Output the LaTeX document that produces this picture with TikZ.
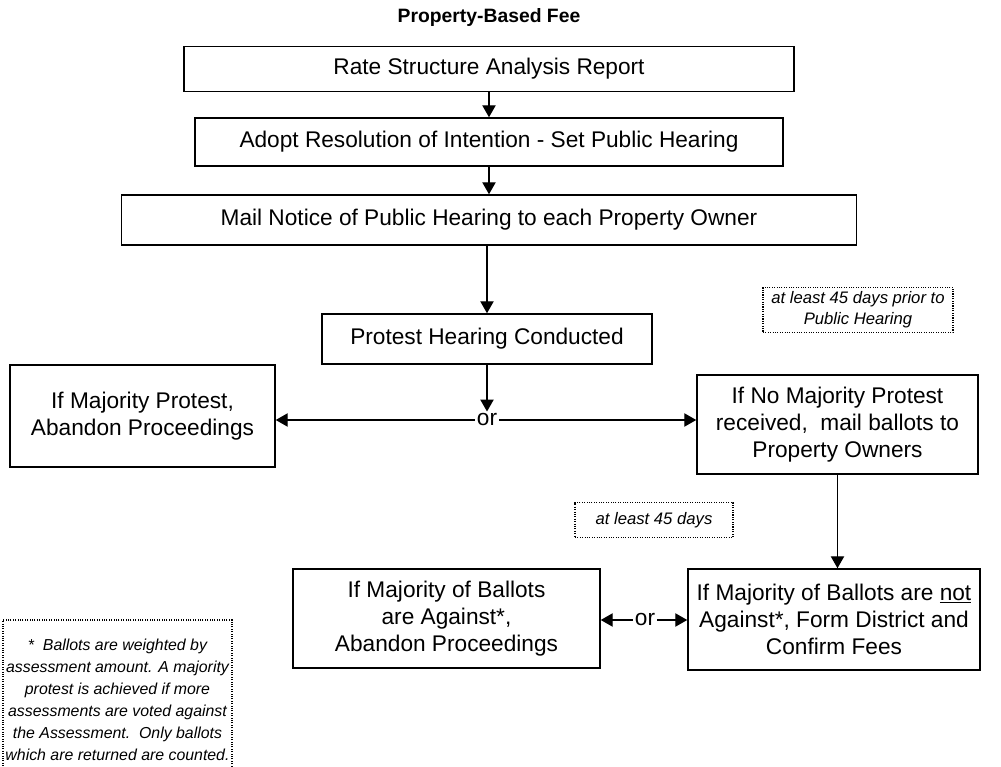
\documentclass[tikz,border=0pt]{standalone}
\usepackage{fontspec}
\setmainfont{Liberation Sans}
\usetikzlibrary{arrows.meta}
\tikzset{
  stepbox/.style={draw, line width=1.1pt, align=center, inner sep=0pt,
    font=\fontsize{17}{20.5}\selectfont},
  notebox/.style={draw, densely dotted, line width=0.8pt, align=center, inner sep=0pt,
    font=\fontsize{12.5}{15.5}\selectfont\itshape},
  orlabel/.style={inner sep=1.5pt, font=\fontsize{17}{20.5}\selectfont},
}
\begin{document}
\begin{tikzpicture}[x=0.75pt, y=-0.75pt, >={Triangle[length=9pt,width=10pt]}]
  \useasboundingbox (0,0) rectangle (1001,767);
  \draw
    (489,18) node[font=\fontsize{14.5}{16}\selectfont\bfseries] (title) {Property-Based Fee}
    (489,69) node[stepbox, minimum width=457.5pt, minimum height=33.75pt] (report) {Rate Structure Analysis Report}
    (489,142) node[stepbox, minimum width=441pt, minimum height=36pt] (resolution) {Adopt Resolution of Intention - Set Public Hearing}
    (489,220) node[stepbox, minimum width=551.25pt, minimum height=37.5pt] (notice) {Mail Notice of Public Hearing to each Property Owner}
    (487,339) node[stepbox, minimum width=247.5pt, minimum height=37.5pt] (hearing) {Protest Hearing Conducted}
    (487,420) node[orlabel] (or1) {or}
    (142.5,416) node[stepbox, minimum width=198.75pt, minimum height=76.5pt] (abandon) {If Majority Protest,\\Abandon Proceedings}
    (837.5,424.5) node[stepbox, minimum width=210.75pt, minimum height=74.25pt] (ballots) {If No Majority Protest\\received,\ \ mail ballots to\\Property Owners}
    (858,310) node[notebox, minimum width=142.5pt, minimum height=33.75pt] (prior) {at least 45 days prior to\\Public Hearing}
    (654,520) node[notebox, minimum width=118.5pt, minimum height=26.25pt] (days) {at least 45 days}
    (446.5,618.5) node[stepbox, minimum width=230.25pt, minimum height=74.25pt] (against) {If Majority of Ballots\\are Against*,\\Abandon Proceedings}
    (834,619.5) node[stepbox, minimum width=219pt, minimum height=75.75pt] (form) {If Majority of Ballots are \underline{not}\\Against*, Form District and\\Confirm Fees}
    (645,620) node[orlabel] (or2) {or}
    (117.5,700) node[notebox, minimum width=171.75pt, minimum height=120pt, font=\fontsize{11.9}{16.5}\selectfont\itshape] (note) {*\ \ Ballots are weighted by\\assessment amount. A majority\\protest is achieved if more\\assessments are voted against\\the Assessment.\ \ Only ballots\\which are returned are counted.};
  \begin{scope}[->, line width=1pt]
    \draw (report) -- (resolution);
    \draw (resolution) -- (notice);
    \draw (notice.south -| hearing) -- (hearing);
    \draw (hearing) -- (or1);
    \draw (or1) -- (abandon.east |- or1);
    \draw (or1) -- (ballots.west |- or1);
    \draw (ballots.south) -- (ballots.south |- form.north);
    \draw (or2) -- (against.east |- or2);
    \draw (or2) -- (form.west |- or2);
  \end{scope}
\end{tikzpicture}
\end{document}
